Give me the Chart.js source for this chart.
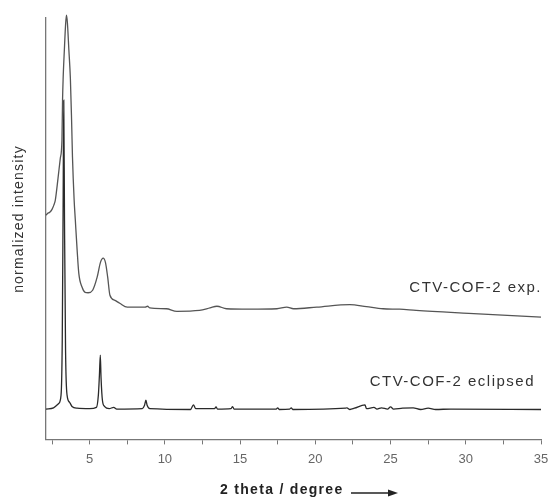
<!DOCTYPE html>
<html>
<head>
<meta charset="utf-8">
<script src="https://cdn.jsdelivr.net/npm/chart.js@4/dist/chart.umd.min.js"></script>
<style>
  html, body { margin: 0; padding: 0; background: #fff; }
  #wrap { width: 551px; height: 499px; position: relative; }
</style>
</head>
<body>
<div id="wrap"><canvas id="myChart" width="551" height="499"></canvas></div>
<script>
// experimental pattern (2 theta, normalized intensity)
var expTheta = [2.1, 2.2, 2.35, 2.5, 2.62, 2.72, 2.9, 3.05, 3.16, 3.2, 3.24, 3.32, 3.4, 3.46,
    3.52, 3.62, 3.72, 3.8, 3.86, 3.97, 4.05, 4.17, 4.28, 4.5, 4.7, 4.9, 5.2, 5.5, 5.72, 5.9,
    6.05, 6.2, 6.35, 6.68, 7.0, 7.5, 8.7, 8.85, 9.0, 10.1, 10.8, 12.3, 13.0, 13.46, 14.1,
    15.6, 17.45, 18.1, 18.55, 20.1, 22.3, 23.4, 24.5, 25.6, 26.7, 30.2, 35];
var expIntensity = [53.2, 53.6, 53.9, 54.6, 55.6, 56.8, 62.0, 66.7, 71.0, 80.5, 85.7, 92.4, 98.3, 100.7,
    99.0, 92.4, 85.7, 75.8, 67.0, 56.8, 52.0, 44.9, 39.4, 36.1, 34.9, 34.8, 35.4, 38.5, 42.0, 43.0,
    42.0, 38.5, 34.2, 33.0, 32.3, 31.4, 31.4, 31.6, 31.2, 31.0, 30.4, 30.6, 31.2, 31.6, 31.0,
    30.9, 31.0, 31.4, 31.0, 31.4, 32.0, 31.5, 31.0, 30.9, 30.6, 29.9, 29.0];

// simulated eclipsed pattern
var eclTheta = [2.1, 2.6, 2.94, 3.1, 3.18, 3.24, 3.28, 3.33, 3.4, 3.5, 3.67, 3.83, 4.16, 5.0,
    5.45, 5.58, 5.65, 5.71, 5.76, 5.85, 6.0, 6.3, 6.6, 6.8, 8.5, 8.65, 8.74, 8.82, 9.0, 11.7,
    11.9, 12.05, 13.3, 13.4, 13.5, 14.4, 14.5, 14.6, 17.4, 17.5, 17.6, 18.3, 18.4, 18.5, 22.0,
    22.1, 22.3, 22.6, 23.3, 23.4, 23.9, 24.1, 24.4, 24.8, 25.0, 25.2, 25.8, 26.5, 27, 27.5,
    28, 29, 35];
var eclIntensity = [7.2, 7.5, 8.5, 10.5, 23.5, 56.8, 80.5, 52.0, 21.1, 10.5, 8.8, 7.8, 7.4, 7.3,
    7.6, 10.5, 15.2, 20.0, 14.5, 9.3, 7.8, 7.3, 7.6, 7.2, 7.3, 8.1, 9.3, 8.1, 7.3, 7.1,
    8.2, 7.3, 7.3, 7.7, 7.2, 7.3, 7.8, 7.2, 7.2, 7.5, 7.1, 7.2, 7.5, 7.1, 7.4,
    7.5, 7.1, 7.4, 8.2, 7.3, 7.6, 7.2, 7.5, 7.2, 7.7, 7.2, 7.4, 7.5, 7.1, 7.4,
    7.1, 7.2, 7.1];

var xTicks = [2.5, 5, 7.5, 10, 12.5, 15, 17.5, 20, 22.5, 25, 27.5, 30, 32.5, 35];
var xLabels = ['', '5', '', '10', '', '15', '', '20', '', '25', '', '30', '', '35'];

var seriesNames = ['CTV-COF-2 exp.', 'CTV-COF-2 eclipsed'];

function toPoints(xs, ys) {
    var pts = [];
    for (let i = 0; i < xs.length; i++) {
        pts.push({ x: xs[i], y: ys[i] });
    }
    return pts;
}

// labels, axis titles and arrow drawn on the canvas
var annotate = {
    id: 'annotate',
    afterDraw: function (chart) {
        var ctx = chart.ctx, area = chart.chartArea;
        ctx.save();
        ctx.fillStyle = '#333';
        ctx.font = '15px "Liberation Sans", Arial, sans-serif';
        ctx.letterSpacing = '1.5px';
        ctx.textAlign = 'right';
        ctx.textBaseline = 'middle';
        ctx.fillText(seriesNames[0], area.right + 1, 288);
        ctx.fillText(seriesNames[1], area.right - 6, 382);

        // x title
        ctx.font = 'bold 14px "Liberation Sans", Arial, sans-serif';
        ctx.letterSpacing = '1.3px';
        ctx.textAlign = 'left';
        ctx.fillStyle = '#222';
        ctx.fillText('2 theta / degree', 220, 490);
        ctx.strokeStyle = '#222';
        ctx.lineWidth = 1.5;
        ctx.beginPath();
        ctx.moveTo(351, 493);
        ctx.lineTo(390, 493);
        ctx.stroke();
        ctx.beginPath();
        ctx.moveTo(398, 493);
        ctx.lineTo(388, 489.5);
        ctx.lineTo(388, 496.5);
        ctx.closePath();
        ctx.fill();

        // y title
        ctx.translate(19, 219);
        ctx.rotate(-Math.PI / 2);
        ctx.font = '14px "Liberation Sans", Arial, sans-serif';
        ctx.letterSpacing = '1.2px';
        ctx.textAlign = 'center';
        ctx.fillStyle = '#333';
        ctx.fillText('normalized intensity', 0, 0);
        ctx.restore();
    }
};

const ctx = document.getElementById('myChart').getContext('2d');
const myChart = new Chart(ctx, {
    type: 'scatter',
    data: {
        datasets: [{
            label: seriesNames[0],
            data: toPoints(expTheta, expIntensity),
            showLine: true,
            borderColor: '#555',
            borderWidth: 1.3,
            pointRadius: 0,
            cubicInterpolationMode: 'monotone',
            clip: false
        }, {
            label: seriesNames[1],
            data: toPoints(eclTheta, eclIntensity),
            showLine: true,
            borderColor: '#2a2a2a',
            borderWidth: 1.3,
            pointRadius: 0,
            cubicInterpolationMode: 'monotone',
            clip: false
        }]
    },
    options: {
        responsive: false,
        animation: false,
        layout: { padding: { left: 46, right: 10, top: 18, bottom: 25 } },
        plugins: {
            legend: { display: false },
            tooltip: { enabled: false }
        },
        scales: {
            x: {
                type: 'linear',
                min: 2.1,
                max: 35,
                afterBuildTicks: function (scale) {
                    scale.ticks = xTicks.map(function (v) { return { value: v }; });
                },
                afterFit: function (scale) {
                    scale.paddingRight = 0;
                },
                ticks: {
                    autoSkip: false,
                    maxRotation: 0,
                    padding: 7,
                    color: '#666',
                    font: { size: 13, family: '"Liberation Sans", Arial, sans-serif' },
                    callback: function (value) {
                        var i = xTicks.indexOf(value);
                        return i >= 0 ? xLabels[i] : '';
                    }
                },
                grid: {
                    drawOnChartArea: false,
                    drawTicks: true,
                    tickLength: 5,
                    color: '#777'
                },
                border: { display: true, color: '#777', width: 1.3 }
            },
            y: {
                min: 0,
                max: 100,
                ticks: { display: false },
                grid: { display: false, drawTicks: false },
                border: { display: true, color: '#777', width: 1.3 }
            }
        }
    },
    plugins: [annotate]
});
</script>
</body>
</html>
